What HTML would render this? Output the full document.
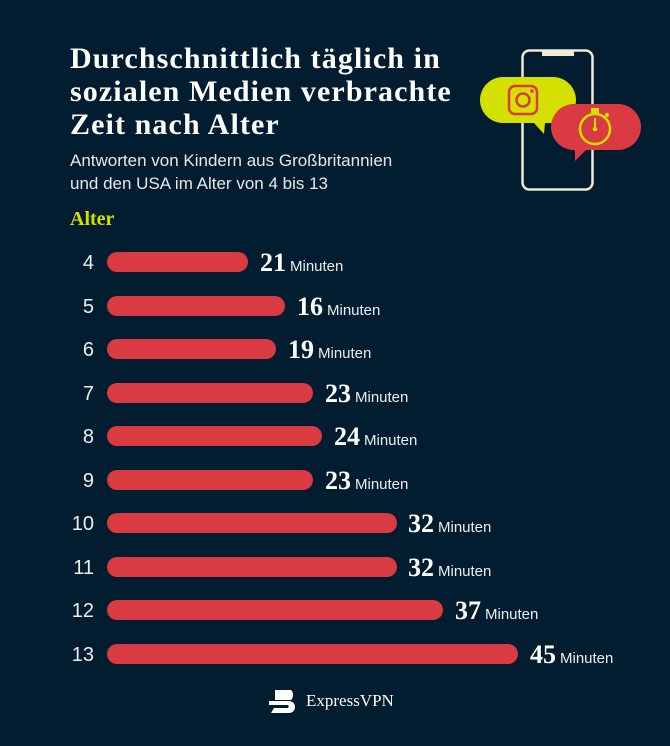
<!DOCTYPE html><html><head><style>
body{margin:0;background:#021c30;width:670px;height:746px;overflow:hidden;position:relative;font-family:"Liberation Sans",sans-serif;color:#fff}
.t{position:absolute;left:70px;top:42px;font:bold 30px/33px "Liberation Serif",serif;letter-spacing:1.1px;white-space:nowrap}
.s{position:absolute;left:70px;top:149px;font:17px/23px "Liberation Sans",sans-serif;color:#e8e8e8}
.a{position:absolute;left:70px;top:208px;font:bold 20px "Liberation Serif",serif;color:#d4e000}
.r{position:absolute;left:0;height:22px;width:670px}
.n{position:absolute;right:576px;font-size:20px;top:1px;color:#eee}
.b{position:absolute;left:107px;top:1px;height:20px;border-radius:10px;background:#da3a42}
.v{position:absolute;top:-3px;white-space:nowrap}
.v b{font:bold 26px "Liberation Serif",serif}
.v span{font-size:15px;margin-left:4px;color:#eee}
</style></head><body>
<div class="t">Durchschnittlich täglich in<br>sozialen Medien verbrachte<br>Zeit nach Alter</div>
<div class="s">Antworten von Kindern aus Großbritannien<br>und den USA im Alter von 4 bis 13</div>
<div class="a">Alter</div>
<svg style="position:absolute;left:470px;top:40px" width="180" height="160">
<rect x="52.5" y="10.5" width="70" height="139" rx="7" fill="none" stroke="#f0ead6" stroke-width="2.5"/>
<rect x="72" y="10" width="32" height="6" fill="#f0ead6"/>
<path d="M33 37 h50 a23 23 0 0 1 0 46 h-8 l-1 11 -10 -11 h-31 a23 23 0 0 1 0 -46z" fill="#d4e000"/>
<rect x="39" y="46" width="28" height="28" rx="6" fill="none" stroke="#da3a42" stroke-width="2.5"/>
<circle cx="53" cy="60" r="6.5" fill="none" stroke="#da3a42" stroke-width="2.5"/>
<circle cx="62" cy="51" r="1.8" fill="#da3a42"/>
<path d="M104 64 h44 a23 23 0 0 1 0 46 h-32 l-11 11 0 -11 h-1 a23 23 0 0 1 0 -46z" fill="#da3a42"/>
<circle cx="125" cy="89" r="15" fill="none" stroke="#d4e000" stroke-width="2.5"/>
<rect x="121" y="68" width="8" height="5" fill="#d4e000"/>
<line x1="125" y1="78" x2="125" y2="89" stroke="#d4e000" stroke-width="2"/>
<circle cx="125" cy="89" r="2.3" fill="#d4e000"/>
<circle cx="137" cy="75" r="2" fill="#d4e000"/>
</svg>
<div class="r" style="top:251px"><div class="n">4</div><div class="b" style="width:141px"></div><div class="v" style="left:260px"><b>21</b><span>Minuten</span></div></div>
<div class="r" style="top:295px"><div class="n">5</div><div class="b" style="width:178px"></div><div class="v" style="left:297px"><b>16</b><span>Minuten</span></div></div>
<div class="r" style="top:338px"><div class="n">6</div><div class="b" style="width:169px"></div><div class="v" style="left:288px"><b>19</b><span>Minuten</span></div></div>
<div class="r" style="top:382px"><div class="n">7</div><div class="b" style="width:206px"></div><div class="v" style="left:325px"><b>23</b><span>Minuten</span></div></div>
<div class="r" style="top:425px"><div class="n">8</div><div class="b" style="width:215px"></div><div class="v" style="left:334px"><b>24</b><span>Minuten</span></div></div>
<div class="r" style="top:469px"><div class="n">9</div><div class="b" style="width:206px"></div><div class="v" style="left:325px"><b>23</b><span>Minuten</span></div></div>
<div class="r" style="top:512px"><div class="n">10</div><div class="b" style="width:290px"></div><div class="v" style="left:408px"><b>32</b><span>Minuten</span></div></div>
<div class="r" style="top:556px"><div class="n">11</div><div class="b" style="width:290px"></div><div class="v" style="left:408px"><b>32</b><span>Minuten</span></div></div>
<div class="r" style="top:599px"><div class="n">12</div><div class="b" style="width:336px"></div><div class="v" style="left:455px"><b>37</b><span>Minuten</span></div></div>
<div class="r" style="top:643px"><div class="n">13</div><div class="b" style="width:411px"></div><div class="v" style="left:530px"><b>45</b><span>Minuten</span></div></div>
<svg style="position:absolute;left:265px;top:688px" width="36" height="28"><path d="M10 2 h16 a7 7 0 0 1 0 10 h-16 z M4 13 h20 a6 6 0 0 1 0 12 h-18 l3 -5 h14 a2 2 0 0 0 0 -3 h-19z" fill="#fff"/></svg>
<div style="position:absolute;left:306px;top:691px;font:17px 'Liberation Serif',serif">ExpressVPN</div>
</body></html>
